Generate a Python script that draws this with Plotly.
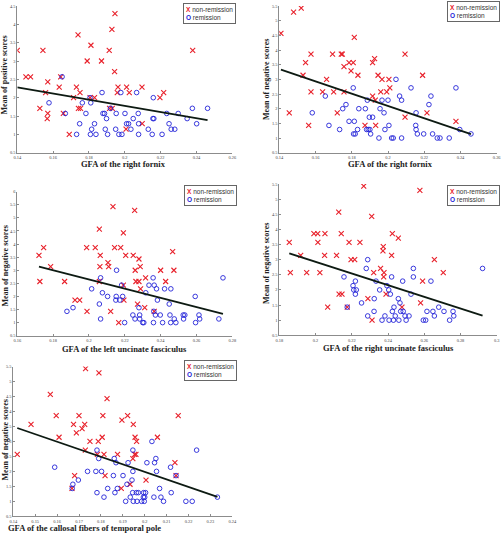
import plotly.graph_objects as go

W, H = 502, 533

# ---------------- Panel 1: right fornix vs positive scores ----------------
p1_non_x = [0.1400, 0.1543, 0.1448, 0.1474, 0.1570, 0.1558, 0.1526, 0.1570, 0.1567, 0.1634,
            0.1642, 0.1657, 0.1690, 0.1714, 0.1739, 0.1750, 0.1730, 0.1741, 0.1753, 0.1790,
            0.1811, 0.1831, 0.1870, 0.1913, 0.1928, 0.1945, 0.1943, 0.1962, 0.1958, 0.1915,
            0.1930, 0.2010, 0.2025, 0.2007, 0.2096, 0.2097, 0.2196, 0.2217, 0.2379, 0.1806]
p1_non_y = [3.29, 3.29, 2.57, 2.57, 2.43, 2.14, 1.71, 1.57, 1.43, 2.29,
            2.57, 1.57, 1.00, 2.00, 3.71, 2.14, 2.29, 1.71, 1.71, 3.00,
            3.43, 2.00, 3.00, 3.29, 3.86, 4.29, 2.71, 2.29, 2.14, 1.71,
            1.71, 2.29, 2.14, 1.14, 2.29, 1.29, 2.00, 2.14, 3.29, 2.00]
p1_rem_x = [0.1650, 0.1577, 0.1668, 0.1748, 0.1731, 0.1763, 0.1783, 0.1806, 0.1810, 0.1815,
            0.1808, 0.1831, 0.1839, 0.1873, 0.1878, 0.1887, 0.1891, 0.1898, 0.1904, 0.1952,
            0.1949, 0.1967, 0.1984, 0.1978, 0.2001, 0.2010, 0.2021, 0.2034, 0.2047, 0.2066,
            0.2075, 0.2077, 0.2077, 0.2131, 0.2153, 0.2157, 0.2162, 0.2159, 0.2208, 0.2234,
            0.2247, 0.2259, 0.2279, 0.2298, 0.2348, 0.2377, 0.2401, 0.2462, 0.1920]
p1_rem_y = [2.57, 1.86, 1.57, 1.29, 1.00, 1.86, 1.57, 2.00, 1.86, 1.14,
            1.00, 1.29, 1.00, 2.14, 1.57, 1.57, 1.14, 1.43, 1.00, 1.57,
            1.14, 1.00, 1.00, 2.14, 1.57, 1.29, 1.29, 1.14, 1.43, 2.14,
            1.57, 1.29, 1.00, 1.14, 1.00, 1.43, 1.43, 2.00, 1.00, 1.57,
            1.29, 1.14, 1.14, 1.57, 1.43, 1.71, 1.29, 1.71, 1.71]
p1_fit_x = [0.1400, 0.2462]
p1_fit_y = [2.28, 1.39]

# ---------------- Panel 2: right fornix vs negative scores ----------------
p2_non_x = [0.1409, 0.1479, 0.1521, 0.1455, 0.1545, 0.1531, 0.1575, 0.1575, 0.1562, 0.1661,
            0.1639, 0.1700, 0.1694, 0.1742, 0.1748, 0.1757, 0.1757, 0.1720, 0.1785, 0.1808,
            0.1796, 0.1814, 0.1834, 0.1873, 0.1915, 0.1926, 0.1915, 0.1930, 0.1932, 0.1945,
            0.1967, 0.1960, 0.1993, 0.2005, 0.2010, 0.2094, 0.2094, 0.2191, 0.2215, 0.2375]
p2_non_y = [4.57, 5.29, 5.43, 1.86, 3.57, 3.14, 3.86, 2.57, 1.43, 3.00,
            2.57, 2.57, 3.86, 3.86, 3.86, 3.43, 2.57, 1.86, 3.57, 3.57,
            3.29, 4.43, 3.14, 1.43, 3.57, 3.71, 2.43, 2.29, 1.43, 3.14,
            3.00, 2.57, 2.57, 3.00, 2.71, 3.86, 1.71, 3.14, 1.86, 1.57]
p2_rem_x = [0.1582, 0.1654, 0.1674, 0.1733, 0.1750, 0.1768, 0.1785, 0.1808, 0.1814, 0.1810,
            0.1819, 0.1832, 0.1839, 0.1875, 0.1882, 0.1891, 0.1886, 0.1897, 0.1904, 0.1915,
            0.1900, 0.1950, 0.1956, 0.1967, 0.1978, 0.1983, 0.2000, 0.2005, 0.2020, 0.2029,
            0.2044, 0.2064, 0.2075, 0.2075, 0.2127, 0.2153, 0.2155, 0.2155, 0.2162, 0.2197,
            0.2226, 0.2237, 0.2246, 0.2272, 0.2287, 0.2338, 0.2375, 0.2396, 0.2458]
p2_rem_y = [1.86, 2.43, 1.43, 1.29, 2.00, 2.14, 1.57, 2.71, 1.57, 1.14,
            1.14, 1.29, 2.00, 2.00, 1.29, 1.29, 2.29, 1.71, 1.14, 1.71,
            1.29, 1.00, 2.00, 2.29, 1.86, 1.29, 2.29, 1.43, 1.00, 1.00,
            3.00, 2.43, 2.29, 1.00, 2.71, 1.43, 1.29, 1.86, 1.14, 1.14,
            2.14, 2.43, 1.14, 1.00, 1.00, 1.00, 2.71, 1.29, 1.14]
p2_fit_x = [0.1409, 0.2458]
p2_fit_y = [3.33, 1.13]

# ---------------- Panel 3: left uncinate fasciculus ----------------
p3_non_x = [0.1721, 0.1747, 0.1726, 0.1786, 0.1864, 0.1922, 0.1948, 0.1989, 0.1987, 0.2035,
            0.2058, 0.2063, 0.2061, 0.2058, 0.2106, 0.2110, 0.2134, 0.2143, 0.2177, 0.2192,
            0.2192, 0.2205, 0.2195, 0.2121, 0.2166, 0.2247, 0.2255, 0.2258, 0.2262, 0.2279,
            0.2279, 0.2286, 0.2288, 0.2271, 0.2311, 0.2316, 0.2364, 0.2400, 0.2428, 0.2467,
            0.2474]
p3_non_y = [3.57, 3.86, 2.57, 3.14, 2.57, 1.86, 1.86, 1.43, 3.86, 3.86,
            4.57, 3.57, 3.14, 2.57, 3.29, 3.14, 5.43, 3.86, 3.86, 2.43,
            4.43, 3.57, 1.86, 1.43, 1.00, 3.57, 5.29, 3.00, 2.57, 2.57,
            3.43, 3.14, 2.29, 1.71, 1.57, 2.71, 1.43, 3.00, 2.57, 3.71,
            3.00]
p3_rem_x = [0.1877, 0.1911, 0.2015, 0.2058, 0.2065, 0.2075, 0.2065, 0.2104, 0.2154, 0.2152,
            0.2150, 0.2172, 0.2182, 0.2188, 0.2199, 0.2245, 0.2257, 0.2279, 0.2283, 0.2283,
            0.2300, 0.2306, 0.2317, 0.2335, 0.2358, 0.2364, 0.2371, 0.2377, 0.2382, 0.2360,
            0.2362, 0.2398, 0.2411, 0.2422, 0.2448, 0.2452, 0.2457, 0.2456, 0.2476, 0.2485,
            0.2526, 0.2535, 0.2528, 0.2593, 0.2595, 0.2614, 0.2618, 0.2725, 0.2748]
p3_rem_y = [1.43, 1.57, 2.29, 1.71, 2.71, 2.14, 1.14, 2.00, 3.00, 2.00,
            1.86, 1.86, 2.43, 2.00, 1.00, 1.29, 1.14, 1.57, 1.29, 1.14,
            1.00, 1.00, 2.14, 2.43, 2.71, 2.43, 1.29, 2.29, 1.86, 1.00,
            1.43, 1.29, 1.00, 2.29, 1.71, 1.29, 2.29, 1.00, 1.14, 1.00,
            1.29, 1.29, 1.14, 2.00, 1.00, 1.29, 1.14, 1.14, 2.71]
p3_fit_x = [0.1721, 0.2748]
p3_fit_y = [3.14, 1.33]

# ---------------- Panel 4: right uncinate fasciculus ----------------
p4_non_x = [0.1855, 0.1861, 0.1918, 0.1951, 0.1991, 0.2012, 0.2013, 0.2024, 0.2052, 0.2050,
            0.2067, 0.2116, 0.2128, 0.2142, 0.2130, 0.2146, 0.2185, 0.2196, 0.2216, 0.2245,
            0.2266, 0.2310, 0.2321, 0.2289, 0.2312, 0.2359, 0.2374, 0.2372, 0.2378, 0.2376,
            0.2389, 0.2424, 0.2420, 0.2457, 0.2477, 0.2576, 0.2591, 0.2580, 0.2656, 0.2705,
            0.2175]
p4_non_y = [3.57, 2.57, 3.14, 2.57, 3.86, 3.86, 3.57, 2.57, 3.86, 3.14,
            1.43, 3.14, 4.57, 3.86, 1.86, 1.86, 3.57, 3.00, 3.00, 3.57,
            5.43, 4.43, 2.57, 1.71, 1.00, 2.71, 3.43, 3.29, 2.57, 2.43,
            1.86, 3.86, 3.14, 3.71, 1.43, 5.29, 2.29, 1.57, 3.00, 2.57,
            1.43]
p4_rem_x = [0.2157, 0.2175, 0.2207, 0.2211, 0.2220, 0.2220, 0.2225, 0.2254, 0.2280, 0.2288,
            0.2288, 0.2324, 0.2323, 0.2334, 0.2354, 0.2367, 0.2383, 0.2394, 0.2404, 0.2406,
            0.2413, 0.2420, 0.2424, 0.2433, 0.2430, 0.2440, 0.2457, 0.2460, 0.2466, 0.2470,
            0.2481, 0.2484, 0.2494, 0.2500, 0.2516, 0.2527, 0.2540, 0.2540, 0.2595, 0.2608,
            0.2615, 0.2637, 0.2648, 0.2656, 0.2680, 0.2709, 0.2740, 0.2759, 0.2763, 0.2922]
p4_rem_y = [2.43, 1.43, 2.14, 2.00, 2.29, 1.86, 2.00, 1.57, 2.71, 3.00,
            1.14, 1.71, 1.29, 2.29, 2.00, 1.00, 1.14, 2.14, 2.00, 1.00,
            1.86, 2.43, 1.29, 1.43, 1.00, 1.14, 1.71, 1.00, 1.57, 1.29,
            2.29, 1.29, 1.14, 1.00, 1.14, 1.86, 2.71, 2.43, 1.00, 1.00,
            1.29, 2.29, 1.29, 1.14, 1.43, 1.29, 1.00, 1.29, 1.14, 2.71]
p4_fit_x = [0.1855, 0.2922]
p4_fit_y = [3.21, 1.15]

# ---------------- Panel 5: callosal fibers of temporal pole ----------------
p5_non_x = [0.1418, 0.1481, 0.1569, 0.1596, 0.1609, 0.1675, 0.1680, 0.1668, 0.1700, 0.1688,
            0.1714, 0.1726, 0.1730, 0.1729, 0.1750, 0.1784, 0.1788, 0.1791, 0.1806, 0.1809,
            0.1814, 0.1819, 0.1828, 0.1876, 0.1896, 0.1893, 0.1922, 0.1933, 0.1948, 0.1946,
            0.1956, 0.1954, 0.1960, 0.1963, 0.2006, 0.2058, 0.2138, 0.2143, 0.2153]
p5_non_y = [2.57, 3.57, 4.57, 3.86, 3.14, 3.57, 1.86, 1.43, 3.86, 3.29,
            3.43, 3.57, 5.43, 2.71, 3.00, 2.57, 3.00, 5.29, 3.14, 3.86,
            2.57, 1.86, 4.43, 2.57, 3.71, 1.43, 3.86, 1.57, 3.57, 2.43,
            3.14, 2.57, 2.57, 3.00, 1.71, 3.14, 2.29, 1.86, 3.86]
p5_rem_x = [0.1589, 0.1672, 0.1669, 0.1697, 0.1739, 0.1782, 0.1790, 0.1782, 0.1777, 0.1803,
            0.1814, 0.1831, 0.1857, 0.1861, 0.1869, 0.1875, 0.1864, 0.1901, 0.1913, 0.1919,
            0.1924, 0.1934, 0.1942, 0.1946, 0.1946, 0.1945, 0.1948, 0.1962, 0.1965, 0.1971,
            0.1986, 0.1994, 0.1995, 0.1998, 0.2000, 0.2010, 0.2004, 0.2033, 0.2042, 0.2045,
            0.2051, 0.2054, 0.2068, 0.2074, 0.2086, 0.2118, 0.2121, 0.2143, 0.2188, 0.2217,
            0.2237, 0.2332]
p5_rem_y = [2.14, 1.57, 1.43, 1.71, 2.00, 2.71, 2.43, 1.29, 2.00, 2.00,
            1.14, 1.43, 1.86, 2.43, 2.29, 1.43, 1.29, 1.86, 1.00, 1.57,
            2.29, 1.14, 1.71, 2.71, 2.00, 1.29, 1.00, 1.29, 1.00, 1.29,
            1.00, 1.14, 1.29, 1.00, 1.14, 2.29, 1.29, 3.00, 1.14, 2.29,
            2.43, 2.00, 1.43, 1.14, 1.00, 2.14, 1.29, 1.86, 1.00, 1.00,
            2.71, 1.14]
p5_fit_x = [0.1418, 0.2332]
p5_fit_y = [3.45, 1.15]

x_titles = ["GFA of the right fornix", "GFA of the right fornix",
            "GFA of the left uncinate fasciculus", "GFA of the right uncinate fasciculus",
            "GFA of the callosal fibers of temporal pole"]
y_titles = ["Mean of positive scores", "Mean of negative scores", "Mean of negative scores",
            "Mean of negative scores", "Mean of negative scores"]
x_ranges = [[0.14, 0.26], [0.14, 0.26], [0.16, 0.28], [0.18, 0.30], [0.14, 0.24]]
x_dticks = [0.02, 0.02, 0.02, 0.02, 0.01]
y_ranges = [[0.5, 4.5], [0.5, 5.5], [0.5, 6.0], [0.5, 5.5], [0.5, 5.5]]
legend_labels = ["non-remission", "remission"]

panels = [
    (p1_non_x, p1_non_y, p1_rem_x, p1_rem_y, p1_fit_x, p1_fit_y),
    (p2_non_x, p2_non_y, p2_rem_x, p2_rem_y, p2_fit_x, p2_fit_y),
    (p3_non_x, p3_non_y, p3_rem_x, p3_rem_y, p3_fit_x, p3_fit_y),
    (p4_non_x, p4_non_y, p4_rem_x, p4_rem_y, p4_fit_x, p4_fit_y),
    (p5_non_x, p5_non_y, p5_rem_x, p5_rem_y, p5_fit_x, p5_fit_y),
]

# plot-area boxes in pixels: (left, right, top, bottom)
boxes = [(17.3, 232.3, 6.0, 152.7),
         (279.3, 496.7, 6.0, 152.7),
         (17.3, 232.3, 191.7, 335.7),
         (279.3, 496.7, 184.0, 335.3),
         (13.3, 232.3, 366.6, 516.3)]
# axis-title centres in pixels: x-title (cx, cy), y-title (cx, cy)
xtitle_pos = [(123, 164.5), (390, 164.5), (124, 349), (388, 348), (84, 528)]
ytitle_pos = [(4.5, 75), (266, 80), (4.5, 266), (266, 264), (4.5, 440)]
# legend boxes (right, top) in pixels
legend_pos = [(236, 2.5), (500, 1.0), (237, 185), (500, 185), (237, 360)]

RED = "#e8212b"
BLUE = "#2424d8"
SERIF = "Liberation Serif"

fig = go.Figure()
layout = dict(width=W, height=H, margin=dict(l=0, r=0, t=0, b=0),
              paper_bgcolor="white", plot_bgcolor="white", showlegend=False,
              annotations=[])

for i, (nx, ny, rx, ry, fx, fy) in enumerate(panels):
    k = "" if i == 0 else str(i + 1)
    xa, ya = "x" + k, "y" + k
    fig.add_trace(go.Scatter(x=nx, y=ny, mode="markers", name=legend_labels[0],
                             xaxis=xa, yaxis=ya,
                             marker=dict(symbol="x-thin-open", size=5,
                                         line=dict(color=RED, width=1.1), color=RED)))
    fig.add_trace(go.Scatter(x=rx, y=ry, mode="markers", name=legend_labels[1],
                             xaxis=xa, yaxis=ya,
                             marker=dict(symbol="circle-open", size=4.6,
                                         line=dict(color=BLUE, width=0.9), color=BLUE)))
    fig.add_trace(go.Scatter(x=fx, y=fy, mode="lines", name="fit",
                             xaxis=xa, yaxis=ya,
                             line=dict(color="#0d1a12", width=1.8)))
    l, r, t, b = boxes[i]
    axis_common = dict(showgrid=False, zeroline=False, showline=True,
                       linecolor="#8c8c8c", linewidth=1, ticks="inside", ticklen=2,
                       tickcolor="#8c8c8c", automargin=False,
                       tickfont=dict(family=SERIF, size=4.4, color="#444"))
    layout["xaxis" + k] = dict(domain=[l / W, r / W], range=x_ranges[i],
                               dtick=x_dticks[i], tick0=0, anchor=ya, **axis_common)
    layout["yaxis" + k] = dict(domain=[1 - b / H, 1 - t / H], range=y_ranges[i],
                               dtick=0.5, tick0=0, anchor=xa, **axis_common)
    cx, cy = xtitle_pos[i]
    layout["annotations"].append(dict(
        xref="paper", yref="paper", x=cx / W, y=1 - cy / H, xanchor="center",
        yanchor="middle", showarrow=False, text="<b>" + x_titles[i] + "</b>",
        font=dict(family=SERIF, size=8.5, color="#222")))
    cx, cy = ytitle_pos[i]
    layout["annotations"].append(dict(
        xref="paper", yref="paper", x=cx / W, y=1 - cy / H, xanchor="center",
        yanchor="middle", showarrow=False, textangle=-90,
        text="<b>" + y_titles[i] + "</b>",
        font=dict(family=SERIF, size=8, color="#222")))
    lx, ly = legend_pos[i]
    layout["annotations"].append(dict(
        xref="paper", yref="paper", x=lx / W, y=1 - ly / H,
        xanchor="right", yanchor="top", align="left", showarrow=False,
        text=(f"<span style='color:{RED}'><b>X</b></span> {legend_labels[0]}<br>"
              f"<span style='color:{BLUE}'><b>O</b></span> {legend_labels[1]}"),
        font=dict(family="Liberation Sans", size=6.5, color="#333"),
        bordercolor="#666", borderwidth=1, borderpad=2, bgcolor="white"))

fig.update_layout(**layout)
fig.write_html("out.html",
               config={"displayModeBar": False},
               post_script="document.body.style.margin='0px';"
                           "document.body.style.padding='0px';")
